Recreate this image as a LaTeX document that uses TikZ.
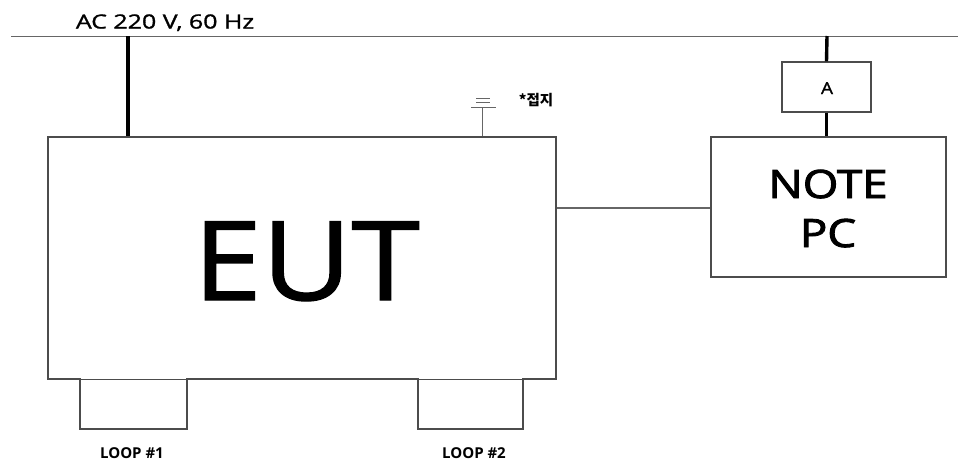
\documentclass[tikz,border=0pt]{standalone}
\usepackage{fontspec}
\setmainfont{Open Sans}
\newfontfamily\medfont[FakeBold=1.2]{Open Sans}
\newfontfamily\semfont[FakeBold=2.2]{Open Sans}
\newfontfamily\krfont{Noto Sans CJK KR}
\begin{document}
\begin{tikzpicture}[x=1pt,y=-1pt,
  box/.style={draw=black!70,line width=1.3pt,inner sep=0pt},
  wire/.style={draw=black!60,line width=1pt},
  power/.style={draw=black,line width=3.4pt},
  lbl/.style={inner sep=0pt,anchor=base}]
\useasboundingbox (0,0) rectangle (958,464);
% AC line
\coordinate (acl) at (11,36);
\coordinate (acr) at (958,36);
\draw[wire] (acl) -- (acr);
\node[lbl,font=\medfont\fontsize{19.5}{20}\selectfont] (actext) at (165,28.5) {\scalebox{1.28}[1]{AC 220 V, 60 Hz}};
% EUT
\node[box,minimum width=508pt,minimum height=242pt] (eut) at (302,258) {};
\node[lbl,font=\medfont\fontsize{110}{110}\selectfont] (euttext) at (306.5,300) {\scalebox{1.12}[1]{EUT}};
% loops
\node[box,minimum width=107pt,minimum height=50pt] (loop1) at (133.5,404) {};
\node[box,minimum width=105pt,minimum height=50pt] (loop2) at (470.5,404) {};
\fill[white] (81,377) rectangle (186,381);
\fill[white] (419,377) rectangle (522,381);
\draw[box] (eut.south west) -- (eut.south east);
\node[lbl,font=\bfseries\fontsize{15}{15}\selectfont] (l1) at (132,458) {LOOP \#1};
\node[lbl,font=\bfseries\fontsize{15}{15}\selectfont] (l2) at (474,458) {LOOP \#2};
% power to EUT
\coordinate (p1) at (128,36);
\draw[power] (p1) -- (p1 |- eut.north);
% ground
\coordinate (g0) at (482,107);
\draw[wire,line width=0.8pt] (g0) -- (g0 |- eut.north);
\draw[wire,line width=0.8pt] (471,107) -- (496,107);
\draw[wire,line width=0.8pt] (476,102) -- (490,102);
\draw[wire,line width=0.8pt] (476,98) -- (490,98);
\node[lbl,font=\krfont\bfseries\fontsize{14.5}{15}\selectfont] (gnd) at (536,105) {*접지};
% NOTE PC
\node[box,minimum width=235pt,minimum height=140pt] (pc) at (828.5,207) {};
\node[lbl,font=\semfont\fontsize{39}{40}\selectfont] (pct1) at (828,198) {\scalebox{1.17}[1]{NOTE}};
\node[lbl,font=\semfont\fontsize{39}{40}\selectfont] (pct2) at (828,247) {\scalebox{1.17}[1]{PC}};
% A
\node[box,minimum width=89pt,minimum height=50pt] (a) at (826.5,87) {};
\node[lbl,font=\medfont\fontsize{16.5}{17}\selectfont] (at) at (827,94) {\scalebox{1.15}[1]{A}};
\coordinate (p2) at (827,36);
\draw[power] (p2) -- (a.north);
\draw[power] (a.south) -- (a.south |- pc.north);
% EUT to PC
\draw[wire,line width=1.2pt] (eut.east |- 0,208) -- (pc.west |- 0,208);
\end{tikzpicture}
\end{document}
